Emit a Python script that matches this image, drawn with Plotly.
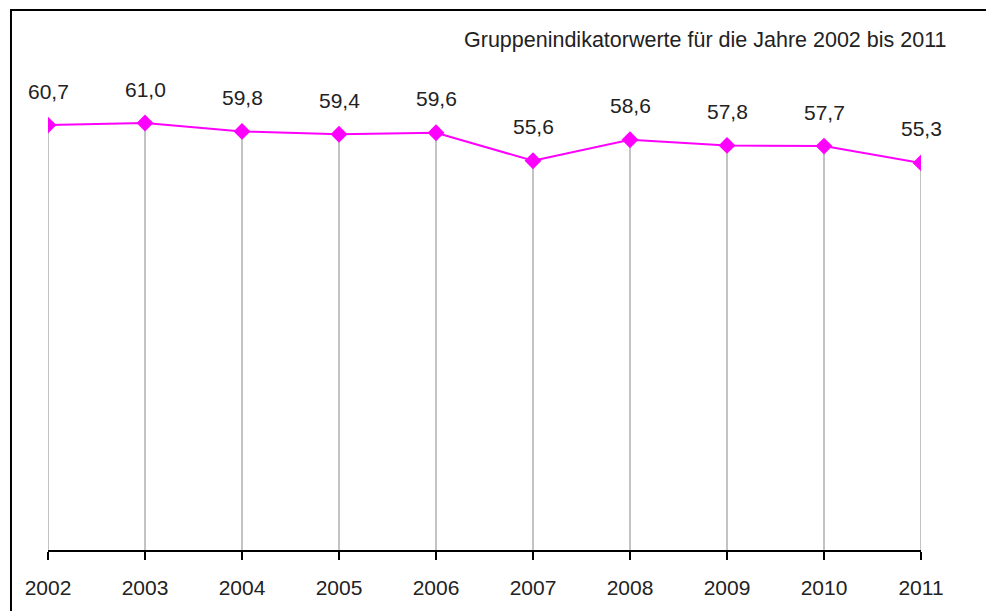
import plotly.graph_objects as go

jahre = [2002, 2003, 2004, 2005, 2006, 2007, 2008, 2009, 2010, 2011]
werte = [60.7, 61.0, 59.8, 59.4, 59.6, 55.6, 58.6, 57.8, 57.7, 55.3]
titel = 'Gruppenindikatorwerte für die Jahre 2002 bis 2011'

schrift = 'Liberation Sans'

# Fall-Linien vom Achsenwert 0 bis zum Datenpunkt
x_lin = []
y_lin = []
for j, w in zip(jahre, werte):
    x_lin.extend([j, j, None])
    y_lin.extend([0, w, None])

fig = go.Figure()

fig.add_trace(go.Scatter(
    x=x_lin, y=y_lin,
    mode='lines',
    line=dict(color='#AFAFAF', width=1.5),
    hoverinfo='skip',
    showlegend=False
))

fig.add_trace(go.Scatter(
    x=jahre, y=werte,
    mode='lines+markers',
    line=dict(color='#FF00FF', width=2),
    marker=dict(symbol='diamond', size=13, color='#FF00FF'),
    showlegend=False
))

for j, w in zip(jahre, werte):
    fig.add_annotation(
        x=j, y=w,
        text=f'{w:.1f}'.replace('.', ','),
        showarrow=False,
        yshift=34,
        font=dict(family=schrift, size=21, color='#222222')
    )

fig.add_annotation(
    x=1.031, y=1.041, xref='paper', yref='paper',
    xanchor='right', yanchor='middle',
    text=titel, showarrow=False,
    font=dict(family=schrift, size=21.5, color='#222222')
)

# Rahmen um das Diagramm
fig.add_shape(
    type='rect', xref='paper', yref='paper',
    x0=-0.0424, y0=-0.3, x1=1.2, y1=1.102,
    line=dict(color='black', width=2)
)

fig.update_layout(
    width=986, height=603,
    margin=dict(l=40, r=73, t=52, b=61),
    plot_bgcolor='white',
    paper_bgcolor='white',
    xaxis=dict(
        range=[2002, 2011],
        tickvals=jahre,
        ticktext=[str(j) for j in jahre],
        showgrid=False, zeroline=False,
        showline=True, linecolor='black', linewidth=1.5,
        ticks='outside', ticklen=8, tickcolor='black', tickwidth=1.5,
        ticklabelstandoff=10,
        tickfont=dict(family=schrift, size=21, color='#222222')
    ),
    yaxis=dict(
        range=[0, 70],
        visible=False,
        showgrid=False, zeroline=False
    )
)

fig.write_html('out.html')
